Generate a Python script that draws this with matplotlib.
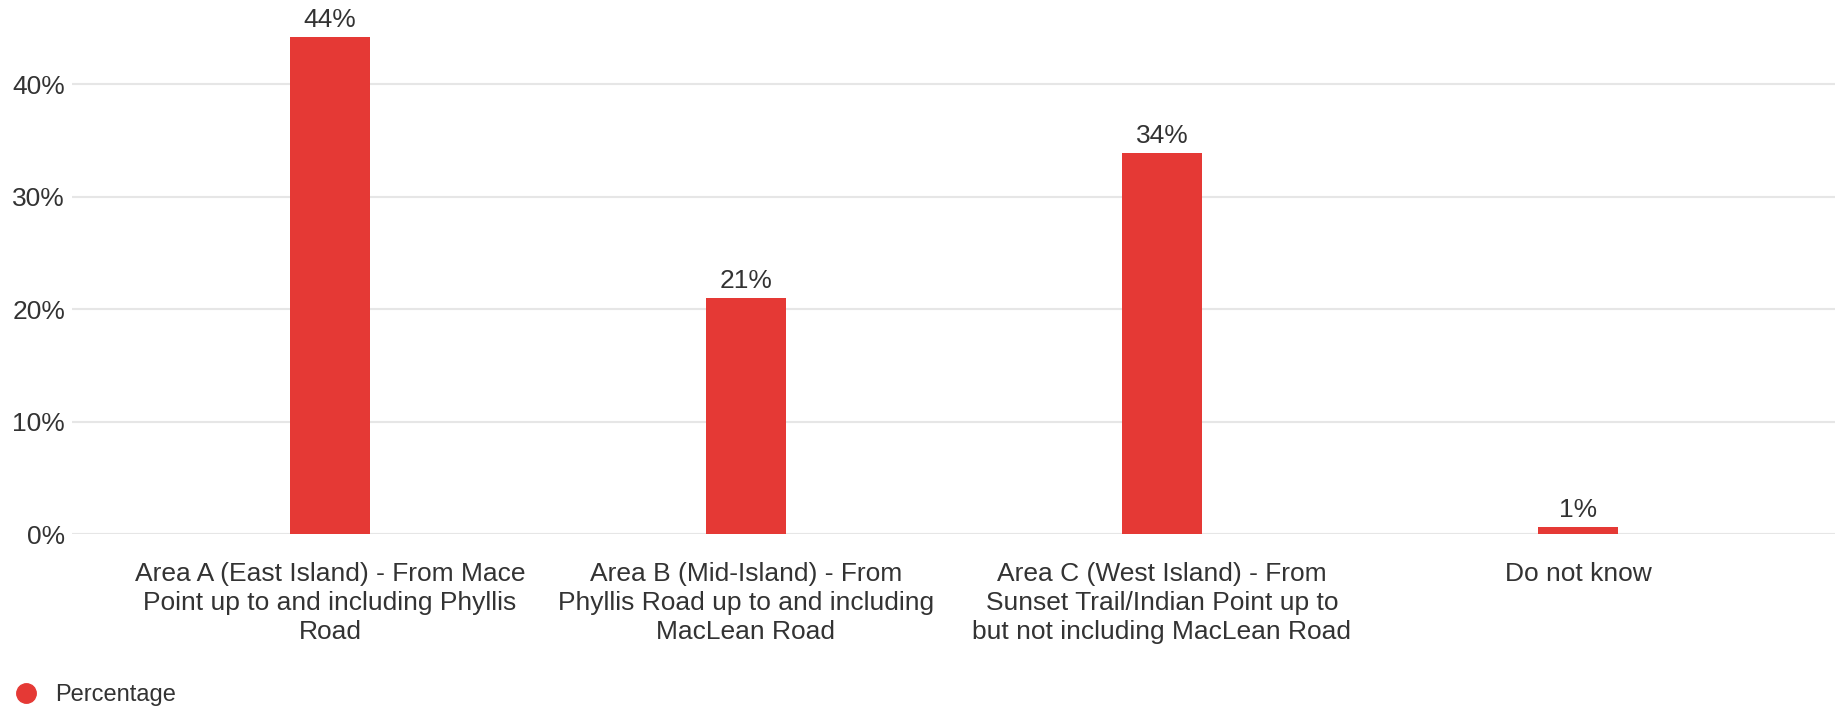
import matplotlib.pyplot as plt
from matplotlib.lines import Line2D

# data
categories = [
    "Area A (East Island) - From Mace\nPoint up to and including Phyllis\nRoad",
    "Area B (Mid-Island) - From\nPhyllis Road up to and including\nMacLean Road",
    "Area C (West Island) - From\nSunset Trail/Indian Point up to\nbut not including MacLean Road",
    "Do not know",
]
percentages = [44.2, 21.0, 33.9, 0.6]
y_ticks = [0, 10, 20, 30, 40]
series_name = "Percentage"

bar_color = "#e53935"
text_color = "#333333"
grid_color = "#e6e6e6"

plt.rcParams['font.family'] = ['Liberation Sans', 'DejaVu Sans']

fig = plt.figure(figsize=(18.37, 7.09), dpi=100)
ax = fig.add_axes([72 / 1837, 1 - 534 / 709, 1763 / 1837, 534 / 709])

x = list(range(len(categories)))
bars = ax.bar(x, percentages, width=0.192, color=bar_color, zorder=3)

for xi, v in zip(x, percentages):
    ax.annotate(f"{v:.0f}%", (xi, v), xytext=(0, 3.5), textcoords="offset points",
                ha="center", va="bottom", fontsize=19, color=text_color)

ax.set_xlim(-0.62, 3.618)
ax.set_ylim(0, 47.5)
ax.set_yticks(y_ticks)
ax.set_yticklabels([f"{t}%" for t in y_ticks])
ax.set_xticks(x)
ax.set_xticklabels(categories, fontsize=19, color=text_color, linespacing=1.26)

ax.tick_params(axis="y", length=0, pad=5, labelsize=19, labelcolor=text_color)
ax.tick_params(axis="x", length=0, pad=20)
for lbl in ax.get_yticklabels():
    lbl.set_horizontalalignment("right")

ax.grid(axis="y", color=grid_color, linewidth=1.5, zorder=0)
for s in ax.spines.values():
    s.set_visible(False)

handle = Line2D([], [], marker="o", linestyle="none", markersize=14,
                markerfacecolor=bar_color, markeredgecolor=bar_color)
fig.legend([handle], [series_name], loc="center left",
           bbox_to_anchor=(-0.001, 1 - 695 / 709), frameon=False,
           fontsize=17, labelcolor=text_color, handletextpad=0.6,
           handlelength=1.2, borderaxespad=0.2)

fig.savefig("out.png", dpi=100, facecolor="white")
